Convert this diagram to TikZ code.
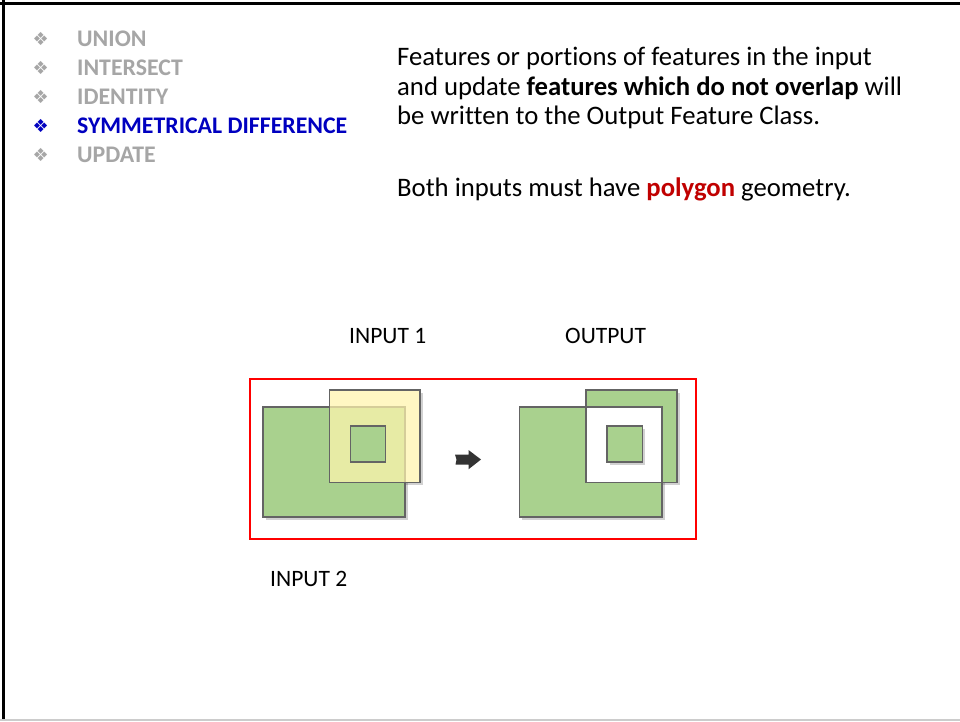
\documentclass[tikz,border=0pt]{standalone}
\usepackage{fontspec}
\setmainfont{Carlito}[Ligatures=NoCommon]
\newfontfamily\symfont{DejaVu Sans}
\usetikzlibrary{shadows}
\definecolor{bulgray}{RGB}{166,166,166}
\definecolor{bulblue}{RGB}{0,0,192}
\definecolor{polyred}{RGB}{192,0,0}
\definecolor{featgreen}{RGB}{169,209,142}
\definecolor{featyellow}{RGB}{255,245,174}
\definecolor{edgegray}{RGB}{100,100,100}
\definecolor{arrowdark}{RGB}{51,51,51}
\tikzset{
  bul/.style={anchor=base west,inner sep=0pt,font=\symfont\fontsize{18}{18}\selectfont},
  item/.style={anchor=base west,inner sep=0pt,font=\bfseries\fontsize{23.8}{28}\selectfont},
  body/.style={anchor=base west,inner sep=0pt,font=\fontsize{26.7}{29}\selectfont},
  lab/.style={anchor=base west,inner sep=0pt,font=\fontsize{23.5}{28}\selectfont},
  feat/.style={draw=edgegray,line width=1.1pt},
  shad/.style={drop shadow={shadow xshift=2.5pt,shadow yshift=-2.5pt,opacity=0.18,fill=black}}
}
\begin{document}
\begin{tikzpicture}[x=1pt,y=-1pt]
\useasboundingbox (0,0) rectangle (960,721);
\fill[white] (0,0) rectangle (960,721);
% frame
\draw[line width=3pt,black] (0,3) -- (960,3);
\draw[line width=3pt,black] (3.5,0) -- (3.5,721);
\draw[line width=1.5pt,black!20] (0,720.2) -- (960,720.2);
% bullet list
\node[bul,text=bulgray] (b1) at (32.5,45.5) {❖};
\node[item,text=bulgray] (t1) at (77,46.7) {UNION};
\node[bul,text=bulgray] (b2) at (32.5,74.5) {❖};
\node[item,text=bulgray] (t2) at (77,75.5) {INTERSECT};
\node[bul,text=bulgray] (b3) at (32.5,103.5) {❖};
\node[item,text=bulgray] (t3) at (77,104.3) {IDENTITY};
\node[bul,text=bulblue] (b4) at (32.5,132.5) {❖};
\node[item,text=bulblue] (t4) at (77,133.2) {SYMMETRICAL DIFFERENCE};
\node[bul,text=bulgray] (b5) at (32.5,161) {❖};
\node[item,text=bulgray] (t5) at (77,162) {UPDATE};
% body text
\node[body] (p1) at (397,65) {Features or portions of features in the input};
\node[body] (p2) at (397,95) {and update \textbf{features which do not overlap} will};
\node[body] (p3) at (397,124.5) {be written to the Output Feature Class.};
\node[body] (p4) at (397,196.5) {Both inputs must have \textbf{\color{polyred}polygon} geometry.};
% labels
\node[lab] (in1) at (349,343.3) {INPUT 1};
\node[lab] (out) at (565,343.3) {OUTPUT};
\node[lab] (in2) at (270,586) {INPUT 2};
% red frame
\draw[red,line width=2pt] (250,379) rectangle (696,539);
% left: inputs
\filldraw[feat,fill=featgreen,shad] (263,407) rectangle (405,517);
\path[shad,fill=white] (329.5,390) rectangle (420,482.5);
\filldraw[feat,fill=featgreen] (263,407) rectangle (405,517);
\filldraw[feat,fill=featyellow,fill opacity=0.73] (329.5,390) rectangle (420,482.5);
\filldraw[feat,fill=featgreen] (350.5,426) rectangle (385.5,462);
% arrow
\fill[arrowdark] (455,454.5) -- (468.5,454.5) -- (468.5,450) -- (481,459.5) -- (468.5,469.3) -- (468.5,464.5) -- (455.5,464.5) -- (456.5,459.5) -- cycle;
% right: output
\path[shad,fill=white] (519.5,407) rectangle (662,517);
\path[shad,fill=white] (586,390) rectangle (677,482.5);
\fill[white] (519.5,407) rectangle (662,517);
\fill[white] (586,390) rectangle (677,482.5);
\fill[featgreen,even odd rule] (519.5,407) rectangle (662,517) (586,390) rectangle (677,482.5);
\draw[feat] (519.5,407) rectangle (662,517);
\draw[feat] (586,390) rectangle (677,482.5);
\filldraw[feat,fill=featgreen,shad] (607,426) rectangle (642.5,462);
\end{tikzpicture}
\end{document}
